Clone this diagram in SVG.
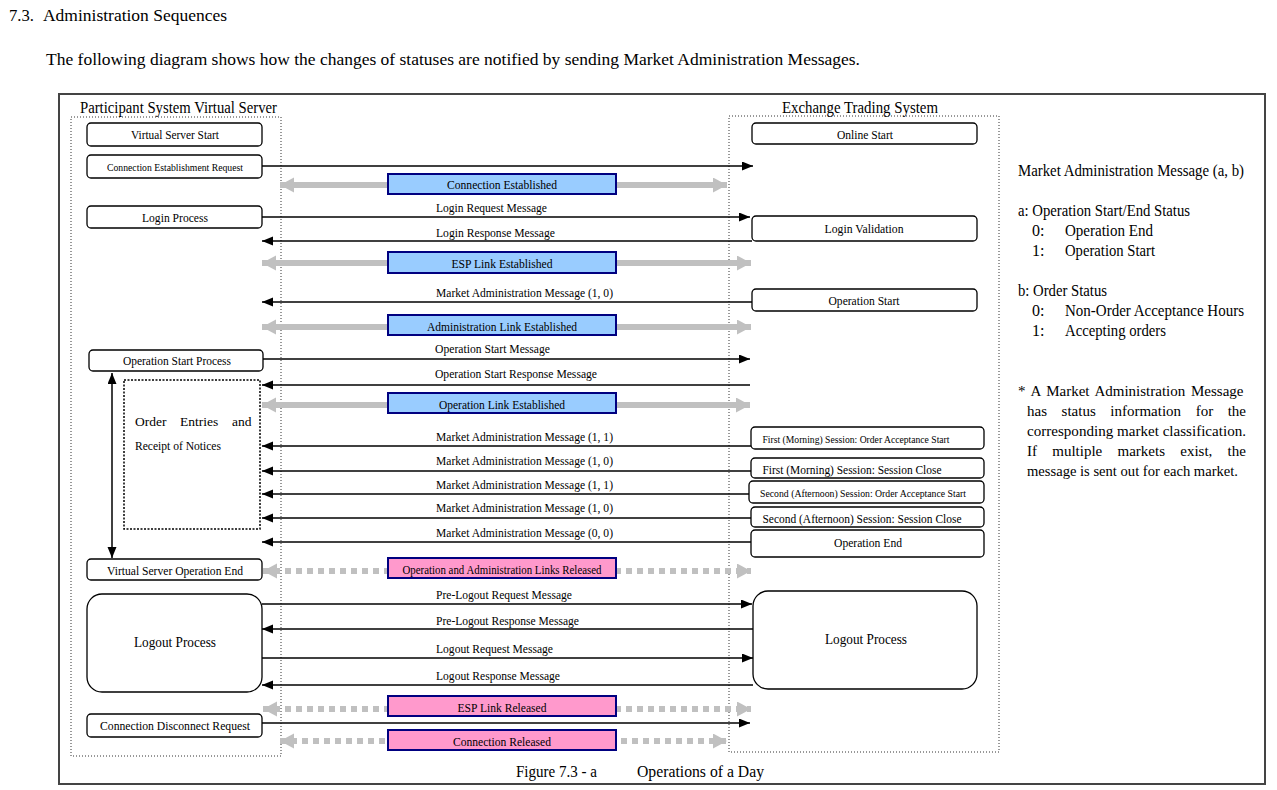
<svg xmlns="http://www.w3.org/2000/svg" width="1277" height="790" viewBox="0 0 1277 790">
<style>
text{font-family:"Liberation Serif","Times New Roman",serif;fill:#000}
.h{font-size:17px}
.lbl{font-size:13.5px}
.sm{font-size:11px}
.lg{font-size:16px}
.nt{font-size:15px}
.c{text-anchor:middle}
.box{fill:#fff;stroke:#000;stroke-width:1.3}
.lane{fill:none;stroke:#333;stroke-width:1;stroke-dasharray:1 2}
.msg{fill:none;stroke:#000;stroke-width:1.5;marker-end:url(#ah)}
.g{fill:none;stroke:#c0c0c0;stroke-width:6;marker-start:url(#gh);marker-end:url(#gh)}
.gd{stroke-dasharray:6 5}
.blue{fill:#99ccff;stroke:#000080;stroke-width:2}
.pink{fill:#ff99cc;stroke:#000080;stroke-width:2}
</style>
<defs>
<marker id="ah" markerUnits="userSpaceOnUse" markerWidth="12" markerHeight="10" refX="11" refY="4.5" orient="auto-start-reverse"><path d="M0,0 L11,4.5 L0,9 z" fill="#000"/></marker>
<marker id="gh" markerUnits="userSpaceOnUse" markerWidth="15" markerHeight="16" refX="14" refY="7.5" orient="auto-start-reverse"><path d="M0,0 L14,7.5 L0,15 z" fill="#c0c0c0"/></marker>
</defs>
<rect width="1277" height="790" fill="#fff"/>
<g id="header">
<text class="h" x="9" y="21" textLength="25" lengthAdjust="spacingAndGlyphs">7.3.</text>
<text class="h" x="43" y="21" textLength="184" lengthAdjust="spacingAndGlyphs">Administration Sequences</text>
<text class="h" x="46" y="65" textLength="814" lengthAdjust="spacingAndGlyphs">The following diagram shows how the changes of statuses are notified by sending Market Administration Messages.</text>
</g>
<rect id="frame" x="59" y="94" width="1206" height="690" fill="none" stroke="#444" stroke-width="2"/>
<g id="lanes">
<rect class="lane" x="71" y="117" width="210" height="639"/>
<rect class="lane" x="729" y="116" width="270" height="636"/>
<text class="lg" x="80" y="113" textLength="197" lengthAdjust="spacingAndGlyphs">Participant System Virtual Server</text>
<text class="lg" x="782" y="113" textLength="156" lengthAdjust="spacingAndGlyphs">Exchange Trading System</text>
</g>
<g id="connectors">
<line class="msg" x1="262" y1="166" x2="753" y2="166"/>
<line class="g" x1="280" y1="185" x2="727" y2="185"/>
<line class="msg" x1="262" y1="217" x2="750" y2="217"/>
<line class="msg" x1="752" y1="241" x2="262" y2="241"/>
<line class="g" x1="262" y1="263" x2="751" y2="263"/>
<line class="msg" x1="752" y1="302" x2="262" y2="302"/>
<line class="g" x1="262" y1="327" x2="751" y2="327"/>
<line class="msg" x1="263" y1="359" x2="750" y2="359"/>
<line class="msg" x1="750" y1="385" x2="262" y2="385"/>
<line class="g" x1="262" y1="405" x2="750" y2="405"/>
<line class="msg" x1="751" y1="446" x2="262" y2="446"/>
<line class="msg" x1="751" y1="471" x2="262" y2="471"/>
<line class="msg" x1="749" y1="494" x2="262" y2="494"/>
<line class="msg" x1="751" y1="518" x2="262" y2="518"/>
<line class="msg" x1="751" y1="542" x2="262" y2="542"/>
<line class="g gd" x1="263" y1="571" x2="751" y2="571"/>
<line class="msg" x1="262" y1="604" x2="752" y2="604"/>
<line class="msg" x1="753" y1="629" x2="262" y2="629"/>
<line class="msg" x1="262" y1="658" x2="753" y2="658"/>
<line class="msg" x1="753" y1="685" x2="262" y2="685"/>
<line class="g gd" x1="263" y1="709" x2="751" y2="709"/>
<line class="msg" x1="262" y1="723" x2="750" y2="723"/>
<line class="g gd" x1="280" y1="741" x2="727" y2="741"/>
<line x1="112" y1="373" x2="112" y2="558" stroke="#000" stroke-width="1.5" marker-start="url(#ah)" marker-end="url(#ah)"/>
<text class="lbl" x="436" y="212" textLength="111" lengthAdjust="spacingAndGlyphs">Login Request Message</text>
<text class="lbl" x="436" y="237" textLength="119" lengthAdjust="spacingAndGlyphs">Login Response Message</text>
<text class="lbl" x="436" y="297" textLength="177" lengthAdjust="spacingAndGlyphs">Market Administration Message (1, 0)</text>
<text class="lbl" x="435" y="353" textLength="115" lengthAdjust="spacingAndGlyphs">Operation Start Message</text>
<text class="lbl" x="435" y="378" textLength="162" lengthAdjust="spacingAndGlyphs">Operation Start Response Message</text>
<text class="lbl" x="436" y="441" textLength="177" lengthAdjust="spacingAndGlyphs">Market Administration Message (1, 1)</text>
<text class="lbl" x="436" y="465" textLength="177" lengthAdjust="spacingAndGlyphs">Market Administration Message (1, 0)</text>
<text class="lbl" x="436" y="489" textLength="177" lengthAdjust="spacingAndGlyphs">Market Administration Message (1, 1)</text>
<text class="lbl" x="436" y="512" textLength="177" lengthAdjust="spacingAndGlyphs">Market Administration Message (1, 0)</text>
<text class="lbl" x="436" y="537" textLength="177" lengthAdjust="spacingAndGlyphs">Market Administration Message (0, 0)</text>
<text class="lbl" x="436" y="599" textLength="136" lengthAdjust="spacingAndGlyphs">Pre-Logout Request Message</text>
<text class="lbl" x="436" y="625" textLength="143" lengthAdjust="spacingAndGlyphs">Pre-Logout Response Message</text>
<text class="lbl" x="436" y="653" textLength="117" lengthAdjust="spacingAndGlyphs">Logout Request Message</text>
<text class="lbl" x="436" y="680" textLength="124" lengthAdjust="spacingAndGlyphs">Logout Response Message</text>
</g>
<g id="link-connection-established"><rect class="blue" x="388" y="174" width="228" height="20"/><text class="lbl c" x="502" y="189" textLength="110" lengthAdjust="spacingAndGlyphs">Connection Established</text></g>
<g id="link-esp-established"><rect class="blue" x="388" y="252" width="228" height="21"/><text class="lbl c" x="502" y="268" textLength="101" lengthAdjust="spacingAndGlyphs">ESP Link Established</text></g>
<g id="link-admin-established"><rect class="blue" x="388" y="315" width="228" height="20"/><text class="lbl c" x="502" y="331" textLength="150" lengthAdjust="spacingAndGlyphs">Administration Link Established</text></g>
<g id="link-operation-established"><rect class="blue" x="388" y="393" width="228" height="20"/><text class="lbl c" x="502" y="409" textLength="126" lengthAdjust="spacingAndGlyphs">Operation Link Established</text></g>
<g id="link-opadmin-released"><rect class="pink" x="388" y="558" width="228" height="20"/><text class="lbl c" x="502" y="574" textLength="199" lengthAdjust="spacingAndGlyphs">Operation and Administration Links Released</text></g>
<g id="link-esp-released"><rect class="pink" x="388" y="696" width="228" height="20"/><text class="lbl c" x="502" y="712" textLength="89" lengthAdjust="spacingAndGlyphs">ESP Link Released</text></g>
<g id="link-connection-released"><rect class="pink" x="388" y="730" width="228" height="20"/><text class="lbl c" x="502" y="746" textLength="98" lengthAdjust="spacingAndGlyphs">Connection Released</text></g>
<g id="virtual-server-start"><rect class="box" x="87" y="123" width="175" height="23" rx="4"/><text class="lbl c" x="175" y="139" textLength="88" lengthAdjust="spacingAndGlyphs">Virtual Server Start</text></g>
<g id="connection-establishment-request"><rect class="box" x="87" y="155" width="175" height="23" rx="4"/><text class="sm c" x="175" y="171" textLength="136" lengthAdjust="spacingAndGlyphs">Connection Establishment Request</text></g>
<g id="login-process"><rect class="box" x="87" y="206" width="175" height="22" rx="4"/><text class="lbl c" x="175" y="222" textLength="66" lengthAdjust="spacingAndGlyphs">Login Process</text></g>
<g id="operation-start-process"><rect class="box" x="89" y="350" width="174" height="21" rx="4"/><text class="lbl c" x="177" y="365" textLength="108" lengthAdjust="spacingAndGlyphs">Operation Start Process</text></g>
<g id="order-entries"><rect x="124" y="380" width="136" height="149" fill="none" stroke="#000" stroke-width="1.5" stroke-dasharray="2 1.5"/>
<text class="lbl" x="135" y="426">Order</text><text class="lbl" x="180" y="426">Entries</text><text class="lbl" x="232" y="426">and</text>
<text class="lbl" x="135" y="450" textLength="86" lengthAdjust="spacingAndGlyphs">Receipt of Notices</text></g>
<g id="virtual-server-operation-end"><rect class="box" x="87" y="559" width="175" height="21" rx="4"/><text class="lbl c" x="175" y="575" textLength="136" lengthAdjust="spacingAndGlyphs">Virtual Server Operation End</text></g>
<g id="logout-process-left"><rect class="box" x="87" y="594" width="175" height="98" rx="15"/><text class="c" style="font-size:15px" x="175" y="647" textLength="82" lengthAdjust="spacingAndGlyphs">Logout Process</text></g>
<g id="connection-disconnect-request"><rect class="box" x="87" y="714" width="175" height="23" rx="4"/><text class="lbl c" x="175" y="730" textLength="150" lengthAdjust="spacingAndGlyphs">Connection Disconnect Request</text></g>
<g id="online-start"><rect class="box" x="752" y="123" width="225" height="21" rx="4"/><text class="lbl c" x="865" y="139" textLength="56" lengthAdjust="spacingAndGlyphs">Online Start</text></g>
<g id="login-validation"><rect class="box" x="752" y="216" width="225" height="25" rx="4"/><text class="lbl c" x="864" y="233" textLength="79" lengthAdjust="spacingAndGlyphs">Login Validation</text></g>
<g id="operation-start"><rect class="box" x="752" y="289" width="225" height="22" rx="4"/><text class="lbl c" x="864" y="305" textLength="71" lengthAdjust="spacingAndGlyphs">Operation Start</text></g>
<g id="first-oas"><rect class="box" x="751" y="427" width="233" height="22" rx="4"/><text class="sm c" x="856" y="443" textLength="187" lengthAdjust="spacingAndGlyphs">First (Morning) Session: Order Acceptance Start</text></g>
<g id="first-sc"><rect class="box" x="751" y="458" width="233" height="20" rx="4"/><text class="lbl c" x="852" y="474" textLength="179" lengthAdjust="spacingAndGlyphs">First (Morning) Session: Session Close</text></g>
<g id="second-oas"><rect class="box" x="749" y="481" width="235" height="22" rx="4"/><text class="sm c" x="863" y="497" textLength="206" lengthAdjust="spacingAndGlyphs">Second (Afternoon) Session: Order Acceptance Start</text></g>
<g id="second-sc"><rect class="box" x="751" y="507" width="233" height="20" rx="4"/><text class="lbl c" x="862" y="523" textLength="199" lengthAdjust="spacingAndGlyphs">Second (Afternoon) Session: Session Close</text></g>
<g id="operation-end"><rect class="box" x="751" y="530" width="233" height="27" rx="4"/><text class="lbl c" x="868" y="547" textLength="68" lengthAdjust="spacingAndGlyphs">Operation End</text></g>
<g id="logout-process-right"><rect class="box" x="753" y="591" width="224" height="98" rx="15"/><text class="c" style="font-size:15px" x="866" y="644" textLength="82" lengthAdjust="spacingAndGlyphs">Logout Process</text></g>
<g id="legend">
<text class="lg" x="1018" y="176" textLength="226" lengthAdjust="spacingAndGlyphs">Market Administration Message (a, b)</text>
<text class="lg" x="1018" y="216" textLength="172" lengthAdjust="spacingAndGlyphs">a: Operation Start/End Status</text>
<text class="lg" x="1032" y="236">0:</text><text class="lg" x="1065" y="236" textLength="88" lengthAdjust="spacingAndGlyphs">Operation End</text>
<text class="lg" x="1032" y="256">1:</text><text class="lg" x="1065" y="256" textLength="90" lengthAdjust="spacingAndGlyphs">Operation Start</text>
<text class="lg" x="1018" y="296" textLength="89" lengthAdjust="spacingAndGlyphs">b: Order Status</text>
<text class="lg" x="1032" y="316">0:</text><text class="lg" x="1065" y="316" textLength="179" lengthAdjust="spacingAndGlyphs">Non-Order Acceptance Hours</text>
<text class="lg" x="1032" y="336">1:</text><text class="lg" x="1065" y="336" textLength="101" lengthAdjust="spacingAndGlyphs">Accepting orders</text>
<text class="nt" x="1018" y="396" word-spacing="2">* A Market Administration Message</text>
<text class="nt" x="1027" y="416" word-spacing="10.8">has status information for the</text>
<text class="nt" x="1027" y="436" textLength="219" lengthAdjust="spacingAndGlyphs">corresponding market classification.</text>
<text class="nt" x="1027" y="456" word-spacing="11.5">If multiple markets exist, the</text>
<text class="nt" x="1027" y="476" textLength="211" lengthAdjust="spacingAndGlyphs">message is sent out for each market.</text>
</g>
<g id="caption">
<text class="h" x="516" y="777" textLength="81" lengthAdjust="spacingAndGlyphs">Figure 7.3 - a</text>
<text class="h" x="637" y="777" textLength="127" lengthAdjust="spacingAndGlyphs">Operations of a Day</text>
</g>
</svg>
